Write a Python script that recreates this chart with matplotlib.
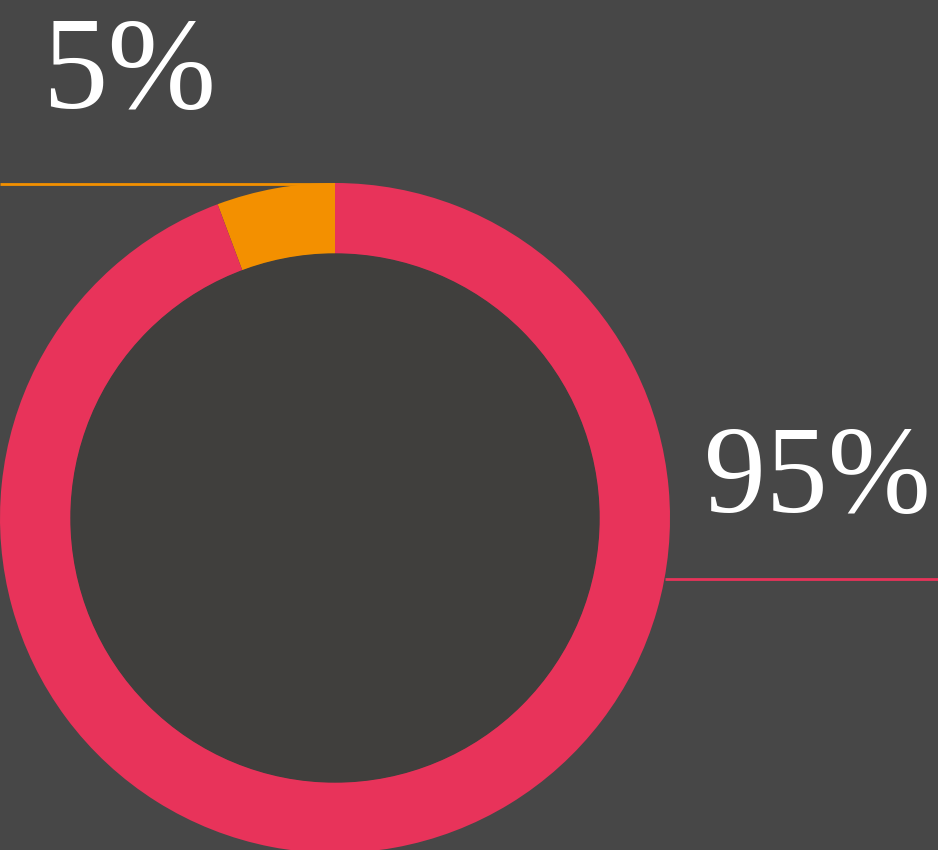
import matplotlib
matplotlib.use("Agg")
import matplotlib.pyplot as plt
from matplotlib.patches import Circle

# share of each slice and the printed labels
labels = ["5%", "95%"]
shares = [5.7, 94.3]
colors = ["#f39000", "#e8335a"]

bg = "#474747"
hole = "#403f3d"

W, H = 938, 850
fig = plt.figure(figsize=(W / 100, H / 100), dpi=100, facecolor=bg)
ax = fig.add_axes([0, 0, 1, 1])
ax.set_facecolor(bg)

cx, cy, r = 335, 332, 335
ax.pie(shares, colors=colors, startangle=90, counterclock=True,
       center=(cx, cy), radius=r,
       wedgeprops=dict(width=71, linewidth=0))
ax.add_patch(Circle((cx, cy), r - 71, color=hole, zorder=3))

# leader lines
ax.plot([0, 330], [666, 666], color=colors[0], lw=2, solid_capstyle="butt")
ax.plot([665, W], [271, 271], color=colors[1], lw=2, solid_capstyle="butt")

font = dict(family="Liberation Serif", color="white", va="baseline")
ax.text(42, 742, labels[0], ha="left", fontsize=94, **font)
ax.text(704, 338, labels[1], ha="left", fontsize=89, **font)

ax.set_xlim(0, W)
ax.set_ylim(0, H)
ax.set_aspect("auto")
ax.axis("off")

fig.savefig("out.png", dpi=100, facecolor=bg)
